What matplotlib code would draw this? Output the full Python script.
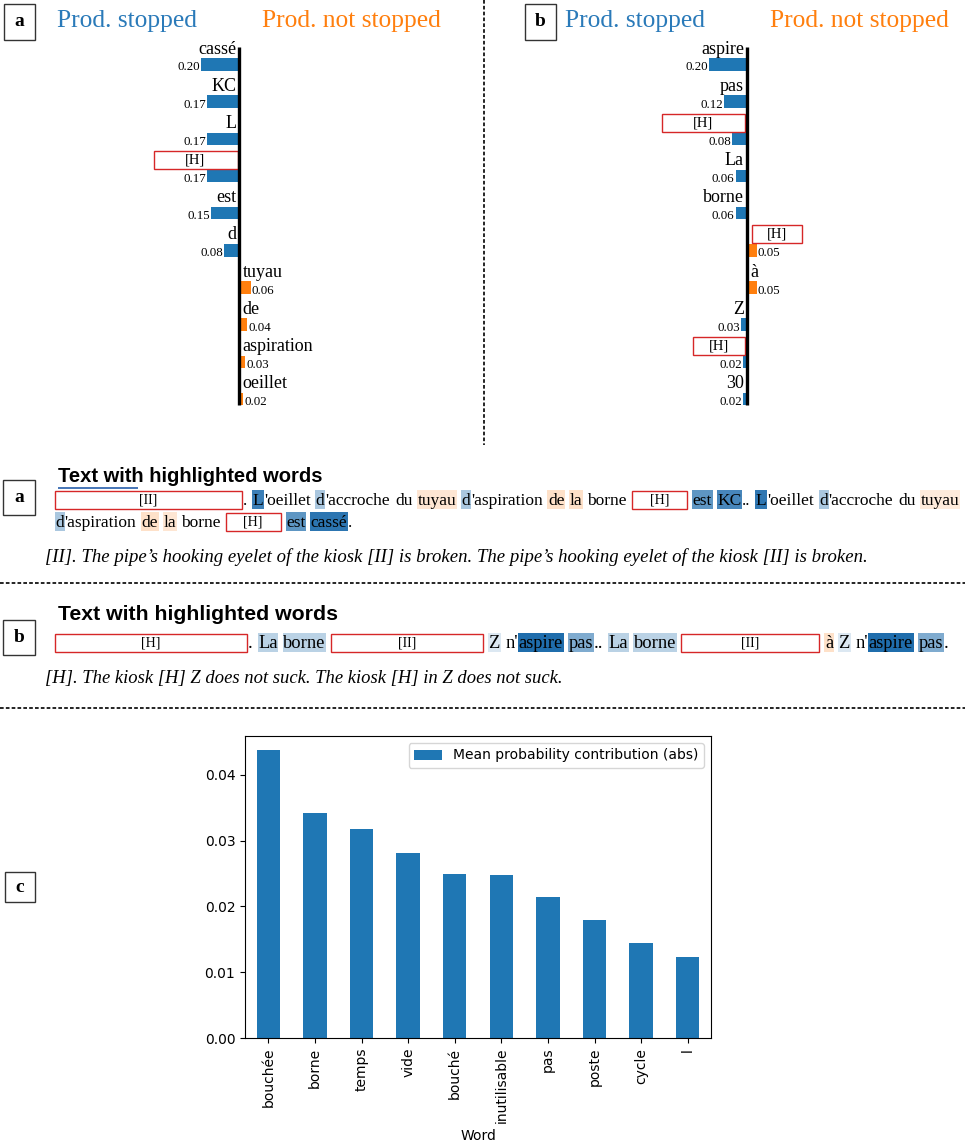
import matplotlib
matplotlib.use("Agg")
import matplotlib.pyplot as plt
import pandas as pd
from matplotlib.patches import Rectangle
from matplotlib.lines import Line2D
from matplotlib.colors import LinearSegmentedColormap

W, H = 965, 1146
BLUE = "#1f77b4"
ORANGE = "#ff7f0e"
MASK_RED = "#d62728"
SERIF = "Liberation Serif"
SANS = "Liberation Sans"
HL_CMAP = LinearSegmentedColormap.from_list("hl", ["#fb9a4b", "#ffffff", "#1a69aa"])

# panels a / b: word contributions (negative = towards "Prod. stopped")
words_a = ["cassé", "KC", "L", "[H]", "est", "d", "tuyau", "de", "aspiration", "oeillet"]
contrib_a = [-0.20, -0.17, -0.17, -0.17, -0.15, -0.08, 0.06, 0.04, 0.03, 0.02]
words_b = ["aspire", "pas", "[H]", "La", "borne", "[H]", "à", "Z", "[H]", "30"]
contrib_b = [-0.20, -0.12, -0.08, -0.06, -0.06, 0.05, 0.05, -0.03, -0.02, -0.02]

# rows where the word is hidden behind a red box (row -> box width in px)
masks_a = {3: 84}
masks_b = {2: 83, 5: 50, 8: 52}

# highlighted sentences: words made of (segment, shade) pieces, shade <0 orange, >0 blue
text_a = [
    [[("MASK", "[II]", 187), (".", 0)], [("L", 0.85), ("'oeillet", 0)], [("d", 0.37), ("'accroche", 0)],
     [("du", 0)], [("tuyau", -0.25)], [("d", 0.37), ("'aspiration", 0)], [("de", -0.3)], [("la", -0.3)],
     [("borne", 0)], [("MASK", "[H]", 55)], [("est", 0.7)], [("KC", 0.8), ("..", 0)],
     [("L", 0.9), ("'oeillet", 0)], [("d", 0.37), ("'accroche", 0)], [("du", 0)], [("tuyau", -0.2)]],
    [[("d", 0.37), ("'aspiration", 0)], [("de", -0.3)], [("la", -0.25)], [("borne", 0)],
     [("MASK", "[H]", 55)], [("est", 0.7)], [("cassé", 0.92), (".", 0)]],
]
text_b = [
    [[("MASK", "[H]", 192), (".", 0)], [("La", 0.3)], [("borne", 0.3)], [("MASK", "[II]", 152)],
     [("Z", 0.15)], [("n'", 0), ("aspire", 0.97)], [("pas", 0.56), ("..", 0)], [("La", 0.3)],
     [("borne", 0.3)], [("MASK", "[II]", 138)], [("à", -0.3)], [("Z", 0.15)],
     [("n'", 0), ("aspire", 0.97)], [("pas", 0.56), (".", 0)]],
]
translation_a = ("[II]. The pipe’s hooking eyelet of the kiosk [II] is broken. "
                 "The pipe’s hooking eyelet of the kiosk [II] is broken.")
translation_b = "[H]. The kiosk [H] Z does not suck. The kiosk [H] in Z does not suck."

# panel c
top_words = ["bouchée", "borne", "temps", "vide", "bouché", "inutilisable", "pas", "poste", "cycle", "l"]
mean_contrib = [0.0437, 0.0342, 0.0317, 0.0281, 0.0249, 0.0247, 0.0214, 0.0180, 0.0144, 0.0123]


def px_rect(x0, y0, x1, y1):
    return [x0 / W, 1 - y1 / H, (x1 - x0) / W, (y1 - y0) / H]


def add_box(fig, x0, y0, x1, y1, **kw):
    fig.add_artist(Rectangle((x0 / W, 1 - y1 / H), (x1 - x0) / W, (y1 - y0) / H,
                             transform=fig.transFigure, **kw))


def fig_text(fig, x, y, s, **kw):
    return fig.text(x / W, 1 - y / H, s, **kw)


def dashed(fig, x0, y0, x1, y1):
    fig.add_artist(Line2D([x0 / W, x1 / W], [1 - y0 / H, 1 - y1 / H], transform=fig.transFigure,
                          color="black", lw=1.2, ls=(0, (2.2, 1.3))))


def letter_box(fig, x0, y0, x1, y1, letter):
    add_box(fig, x0, y0, x1, y1, fill=False, ec="#333333", lw=1)
    fig_text(fig, (x0 + x1) / 2, (y0 + y1) / 2, letter, ha="center", va="center",
             fontsize=14, fontweight="bold", family=SERIF)


def contribution_panel(fig, zero_x, words, contrib, masks):
    scale_x = 190.0
    row_px = 37.17
    top, bottom, first_row = 45, 415, 64.5
    ax = fig.add_axes(px_rect(zero_x - 120, top, zero_x + 120, bottom))
    ax.set_xlim(-120 / scale_x, 120 / scale_x)
    ax.set_ylim((bottom - first_row) / row_px, (top - first_row) / row_px)
    ax.axis("off")
    n = len(words)
    bar_h = 12.4 / row_px
    colors = [BLUE if v < 0 else ORANGE for v in contrib]
    ax.barh(range(n), contrib, height=bar_h, color=colors)
    ax.vlines(0, (47 - first_row) / row_px, n - 1 + bar_h / 2, color="black", lw=2.4)
    for i, (w, v) in enumerate(zip(words, contrib)):
        side = -1 if v < 0 else 1
        ha = "right" if v < 0 else "left"
        ax.annotate("{:.2f}".format(abs(v)), (v, i), xytext=(side * 1, -3), textcoords="offset pixels",
                    ha=ha, va="center", fontsize=9.3, family=SERIF)
        if i in masks:
            mw = masks[i]
            x0 = -(2 + mw) if v < 0 else 5
            ax.add_patch(Rectangle((x0 / scale_x, i - 25 / row_px), mw / scale_x, 18 / row_px,
                                   fill=False, ec=MASK_RED, lw=1))
            ax.text((x0 + mw / 2) / scale_x, i - 16 / row_px, w, ha="center", va="center",
                    fontsize=10.5, family=SERIF)
        else:
            ax.annotate(w, (0, i), xytext=(side * 3, 11), textcoords="offset pixels",
                        ha=ha, va="baseline", fontsize=13, family=SERIF)


def highlighted_text(fig, renderer, lines, x0, baseline0, line_gap, size):
    probe = fig_text(fig, 0, 0, "x x", fontsize=size, family=SERIF)
    w2 = probe.get_window_extent(renderer).width
    probe.set_text("xx")
    space = w2 - probe.get_window_extent(renderer).width
    probe.remove()
    for li, words in enumerate(lines):
        base = baseline0 + li * line_gap
        x = x0
        for word in words:
            for seg in word:
                if seg[0] == "MASK":
                    label, mw = seg[1], seg[2]
                    add_box(fig, x, base - 14, x + mw, base + 4, fill=False, ec=MASK_RED, lw=1, zorder=3)
                    fig_text(fig, x + mw / 2, base - 5, label, ha="center", va="center",
                             fontsize=10, family=SERIF, zorder=3)
                    x += mw + 1
                    continue
                s, shade = seg
                t = fig_text(fig, x, base, s, fontsize=size, family=SERIF, va="baseline", zorder=3)
                w = t.get_window_extent(renderer).width + 0.8
                if shade != 0:
                    add_box(fig, x - 0.5, base - 15, x + w, base + 4,
                            color=HL_CMAP((shade + 1) / 2), lw=0, zorder=1)
                x += w
            x += space


def main():
    fig = plt.figure(figsize=(W / 100, H / 100), dpi=100)
    renderer = fig.canvas.get_renderer()

    # top: per-word contributions
    letter_box(fig, 4, 4, 35, 40, "a")
    letter_box(fig, 525, 4, 556, 40, "b")
    for x_stop, x_not in [(57, 262), (565, 770)]:
        fig_text(fig, x_stop, 21, "Prod. stopped", color="#2a7ab9", fontsize=18.4, family=SERIF, va="center")
        fig_text(fig, x_not, 21, "Prod. not stopped", color=ORANGE, fontsize=18.4, family=SERIF, va="center")
    contribution_panel(fig, 239.5, words_a, contrib_a, masks_a)
    contribution_panel(fig, 747, words_b, contrib_b, masks_b)
    dashed(fig, 484, 0, 484, 445)

    # middle: highlighted texts
    letter_box(fig, 3, 480, 35, 515, "a")
    fig_text(fig, 58, 476, "Text with highlighted words", fontsize=14.5, fontweight="bold", family=SANS, va="center")
    add_box(fig, 58, 486.5, 138, 488.5, color="#4a78b8", lw=0)
    highlighted_text(fig, renderer, text_a, 55, 505, 22, 12.5)
    fig_text(fig, 45, 557, translation_a, fontsize=13.5, style="italic", family=SERIF, va="center")
    dashed(fig, 0, 583, 965, 583)

    letter_box(fig, 3, 620, 35, 655, "b")
    fig_text(fig, 58, 615, "Text with highlighted words", fontsize=15.3, fontweight="bold", family=SANS, va="center")
    highlighted_text(fig, renderer, text_b, 55, 648, 22, 13.3)
    fig_text(fig, 45, 678, translation_b, fontsize=13.4, style="italic", family=SERIF, va="center")
    dashed(fig, 0, 708, 965, 708)

    # bottom: mean contribution per word
    letter_box(fig, 5, 872, 35, 902, "c")
    df = pd.DataFrame({"Mean probability contribution (abs)": mean_contrib},
                      index=pd.Index(top_words, name="Word"))
    ax = fig.add_axes(px_rect(245, 736, 711, 1038))
    df.plot.bar(ax=ax, color=BLUE)
    ax.legend(loc="upper right")

    fig.savefig("out.png", dpi=100)


if __name__ == "__main__":
    main()
